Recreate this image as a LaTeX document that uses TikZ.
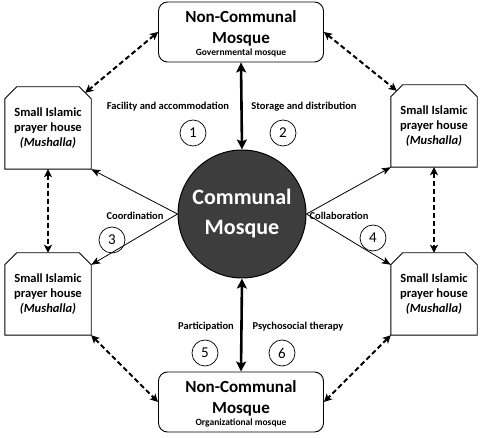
\documentclass[tikz,border=0pt]{standalone}
\usepackage{fontspec}
\setmainfont{Carlito}
\usetikzlibrary{arrows.meta,calc}
\begin{document}
\begin{tikzpicture}[x=1pt,y=-1pt,
  bigbox/.style={draw,rounded corners=9pt,line width=0.9pt,minimum width=165pt,minimum height=60pt,inner sep=0pt},
  house/.style={minimum width=86pt,minimum height=82pt,inner sep=0pt,align=center,font=\fontsize{12.5}{15}\selectfont\bfseries},
  outline/.style={draw,line width=0.9pt,line join=miter},
  lab/.style={font=\fontsize{10.5}{12}\selectfont\bfseries,inner sep=0pt},
  num/.style={draw,circle,line width=0.7pt,minimum size=26pt,inner sep=0pt,font=\fontsize{15}{16}\selectfont},
  thin/.style={line width=0.8pt,-{Stealth[length=9pt,width=7pt,inset=2pt]}},
  thick/.style={line width=2.6pt,{Stealth[length=10pt,width=10pt,inset=2pt]}-{Stealth[length=10pt,width=10pt,inset=2pt]}},
  dsh/.style={line width=2pt,dashed,dash pattern=on 5pt off 3pt,{Stealth[length=8pt,width=8pt,inset=2pt]}-{Stealth[length=8pt,width=8pt,inset=2pt]}}]
\useasboundingbox (0,0) rectangle (480,438);

% central circle
\node[circle,draw=black,line width=1pt,fill=black!76,minimum size=128pt,inner sep=0pt,align=center,text=white,font=\fontsize{22}{30}\selectfont\bfseries] (C) at (242,214) {Communal\\Mosque};

% non-communal boxes
\node[bigbox] (T) at (241,32) {};
\node[font=\fontsize{17}{21}\selectfont\bfseries,align=center,inner sep=0pt] (Tt) at (241,28) {Non-Communal\\Mosque};
\node[font=\fontsize{9.5}{11}\selectfont\bfseries,inner sep=0pt] (Ts) at (241,53) {Governmental mosque};

\node[bigbox] (B) at (241,402) {};
\node[font=\fontsize{17}{21}\selectfont\bfseries,align=center,inner sep=0pt] (Bt) at (241,398) {Non-Communal\\Mosque};
\node[font=\fontsize{9.5}{11}\selectfont\bfseries,inner sep=0pt] (Bs) at (241,423) {Organizational mosque};

% prayer houses
\node[house] (HL1) at (48,128) {Small Islamic\\prayer house\\\textit{(Mushalla)}};
\node[house] (HL2) at (48,294) {Small Islamic\\prayer house\\\textit{(Mushalla)}};
\node[house] (HR1) at (434,126) {Small Islamic\\prayer house\\\textit{(Mushalla)}};
\node[house] (HR2) at (434,294) {Small Islamic\\prayer house\\\textit{(Mushalla)}};
\foreach \n in {HL1,HL2,HR1,HR2}{
  \draw[outline] (\n.south west) -- ([yshift=-12pt]\n.north west) -- ([xshift=12pt]\n.north west)
    -- ([xshift=-12pt]\n.north east) -- ([yshift=-12pt]\n.north east) -- (\n.south east) -- cycle;
}
\coordinate (HL1c) at ([xshift=-6pt,yshift=-6pt]HL1.north east);
\coordinate (HR1c) at ([xshift=6pt,yshift=-6pt]HR1.north west);
\coordinate (HL2k) at ([yshift=-12pt]HL2.north east);
\coordinate (HR2k) at ([yshift=-12pt]HR2.north west);

% thick vertical arrows
\draw[thick] (T.south) -- (C.north);
\draw[thick] (C.south) -- (B.north);

% solid arrows
\draw[thin] (C.west) -- (HL1.south east);
\draw[thin] (C.west) -- (HL2k);
\draw[thin] (C.east) -- (HR1.south west);
\draw[thin] (C.east) -- (HR2k);

% dashed arrows
\draw[dsh] (T.west) -- (HL1c);
\draw[dsh] (T.east) -- (HR1c);
\draw[dsh] (HL1.south) -- (HL2.north);
\draw[dsh] (HR1.south) -- (HR2.north);
\draw[dsh] (HL2.south east) -- (B.west);
\draw[dsh] (HR2.south west) -- (B.east);

% labels
\node[lab] (l1) at (168,107) {Facility and accommodation};
\node[lab] (l2) at (304,107) {Storage and distribution};
\node[lab] (l3) at (135,216) {Coordination};
\node[lab] (l4) at (339,216) {Collaboration};
\node[lab] (l5) at (206,327) {Participation};
\node[lab] (l6) at (298,327) {Psychosocial therapy};

\node[num] (n1) at (193,133) {1};
\node[num] (n2) at (283,133) {2};
\node[num] (n3) at (112,240) {3};
\node[num] (n4) at (373,238) {4};
\node[num] (n5) at (205,353) {5};
\node[num] (n6) at (282,353) {6};
\end{tikzpicture}
\end{document}
